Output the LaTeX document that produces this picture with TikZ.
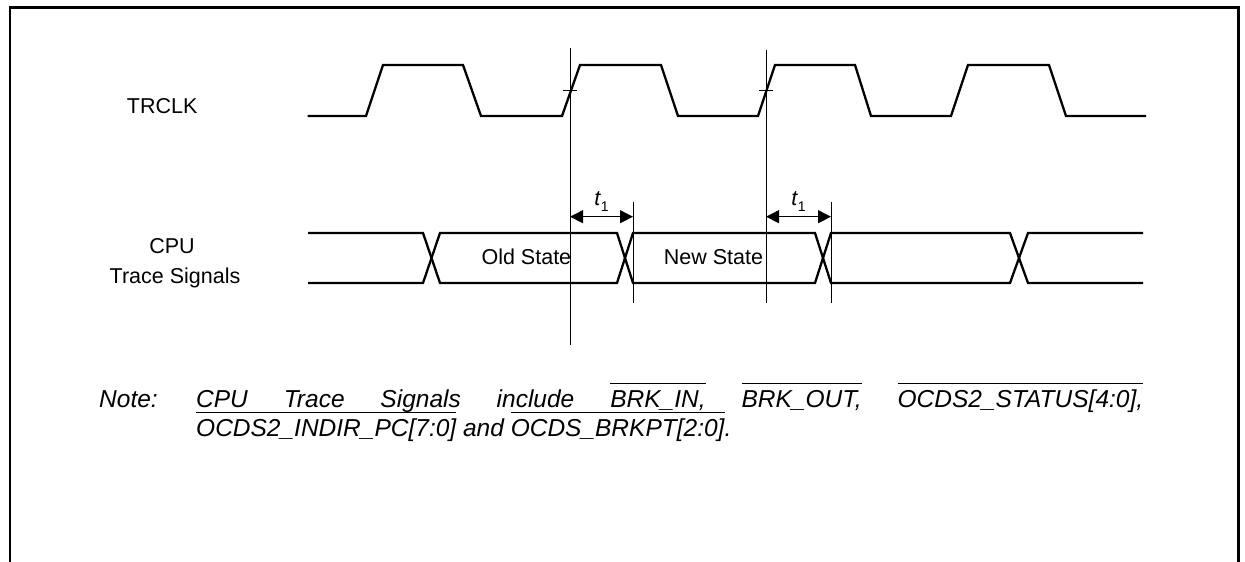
\documentclass[tikz,border=0pt]{standalone}
\usepackage{fontspec}
\setmainfont{Liberation Sans}
\usetikzlibrary{arrows.meta}
\newcommand\ovl[1]{\vbox{\hrule height 1.6pt\kern 5pt\hbox{\vphantom{[}#1}}}
\begin{document}
\begin{tikzpicture}[x=1pt,y=-1pt,
  wave/.style={line width=2.3pt,line join=miter},
  thinline/.style={line width=0.9pt},
  tickline/.style={line width=1.2pt},
  lbl/.style={inner sep=0pt,font=\fontsize{21.5}{26}\selectfont},
  notefont/.style={inner sep=0pt,font=\fontsize{24.5}{28}\selectfont\itshape},
  dimarrow/.style={line width=0.9pt,{Triangle[length=13pt,width=13pt]}-{Triangle[length=13pt,width=13pt]}},
  framebox/.style={line width=2.8pt,line join=miter}]
\useasboundingbox (0,0) rectangle (1245,562);
% frame
\draw[framebox] (10,562) -- (10,7.3) -- (1238.3,7.3) -- (1238.3,562);
% TRCLK waveform
\draw[wave] (307.7,116) -- (366,116) -- (383,65) -- (463,65) -- (481,116)
  -- (562,116) -- (580,65) -- (661,65) -- (678,116) -- (758,116) -- (775,65)
  -- (855,65) -- (871,116) -- (951,116) -- (968,65) -- (1049,65) -- (1066,116)
  -- (1146,116);
% reference points
\coordinate (v1top) at (570,48);
\coordinate (v1bot) at (570,345);
\coordinate (v2top) at (766,50);
\coordinate (v2bot) at (766,303);
\coordinate (e1top) at (633,202);
\coordinate (e1bot) at (633,303);
\coordinate (e2top) at (831,202);
\coordinate (e2bot) at (831,303);
\draw[thinline] (v1top) -- (v1bot);
\draw[thinline] (v2top) -- (v2bot);
\draw[thinline] (e1top) -- (e1bot);
\draw[thinline] (e2top) -- (e2bot);
% ticks on rising edges
\draw[tickline] (563,90.5) -- (577,90.5);
\draw[tickline] (759,90.5) -- (773,90.5);
% bus
\draw[wave] (308,233) -- (423,233) -- (440,283) -- (617,283) -- (633,233)
  -- (815,233) -- (831,283) -- (1010,283) -- (1028,233) -- (1143,233);
\draw[wave] (308,283) -- (423,283) -- (440,233) -- (617,233) -- (633,283)
  -- (815,283) -- (831,233) -- (1010,233) -- (1028,283) -- (1143,283);
% t1 dimensions
\coordinate (a1l) at (570,216.7);
\coordinate (a1r) at (633,216.7);
\coordinate (a2l) at (766,216.7);
\coordinate (a2r) at (831,216.7);
\draw[dimarrow] (a1l) -- (a1r);
\draw[dimarrow] (a2l) -- (a2r);
\node[lbl,anchor=base] (t1a) at (601.5,205) {\textit{t}\raisebox{-6.5pt}{\fontsize{14}{14}\selectfont 1}};
\node[lbl,anchor=base] (t1b) at (798.5,205) {\textit{t}\raisebox{-6.5pt}{\fontsize{14}{14}\selectfont 1}};
% labels
\node[lbl,anchor=base west] (trclk) at (126.7,113.3) {TRCLK};
\node[lbl,anchor=base] (cpu) at (172,253.3) {CPU};
\node[lbl,anchor=base] (trace) at (175,283) {Trace Signals};
\node[lbl,anchor=base] (old) at (526.4,264.3) {Old State};
\node[lbl,anchor=base] (new) at (713.5,264.3) {New State};
% note
\node[notefont,anchor=base west] (note) at (99,407) {Note:};
\node[notefont,anchor=base west] (line1) at (196,407)
  {\hbox to 947pt{CPU\hfill Trace\hfill Signals\hfill include\hfill \ovl{BRK\_IN,}\hfill \ovl{BRK\_OUT,}\hfill \ovl{OCDS2\_STATUS[4:0],}}};
\node[notefont,anchor=base west] (line2) at (196,436)
  {\ovl{OCDS2\_INDIR\_PC[7:0]} and \ovl{OCDS\_BRKPT[2:0]}.};
\end{tikzpicture}
\end{document}
